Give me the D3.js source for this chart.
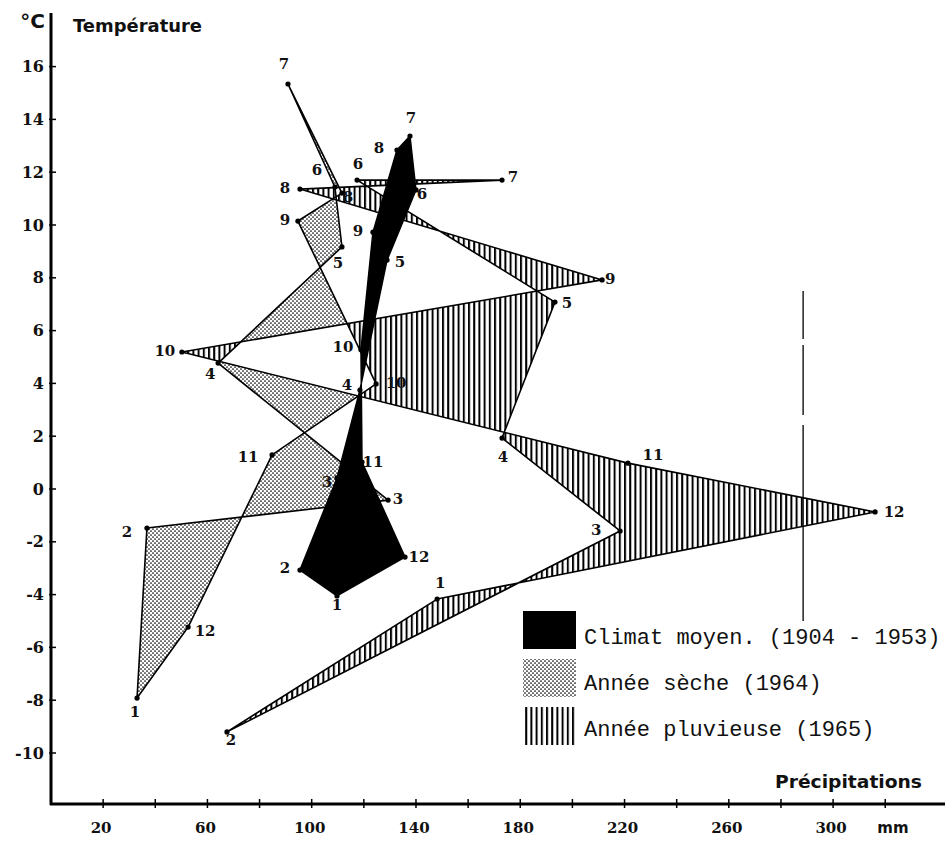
<!DOCTYPE html>
<html>
<head>
<meta charset="utf-8">
<script src="https://cdn.jsdelivr.net/npm/d3@7/dist/d3.min.js"></script>
<style>
  body { margin: 0; background: #fff; }
  .num { font-family: 'DejaVu Serif', serif; font-weight: bold; font-size: 15px; fill: #111; }
  .legend { font-family: 'Liberation Mono', 'DejaVu Sans Mono', monospace; font-size: 22px; fill: #111; }
  .title { font-family: 'DejaVu Sans', sans-serif; font-weight: bold; fill: #111; }
</style>
</head>
<body>
<script>

// monthly values, months 1..12
var months = [1,2,3,4,5,6,7,8,9,10,11,12];

// Climat moyen (1904 - 1953)
var meanPrecip = [109.7, 95.5, 109.7, 118.5, 128.9, 140.0, 137.7, 132.7, 123.5, 118.9, 119.3, 135.8];
var meanTemp   = [-4.05, -3.07, 0.42, 3.75, 8.67, 11.33, 13.37, 12.84, 9.73, 5.27, 1.02, -2.58];

// Annee seche (1964)
var dryPrecip = [33.0, 36.8, 129.3, 64.1, 111.6, 108.9, 90.9, 111.6, 94.7, 124.7, 84.8, 52.6];
var dryTemp   = [-7.92, -1.48, -0.42, 4.77, 9.17, 11.44, 15.34, 11.21, 10.15, 3.98, 1.29, -5.23];

// Annee pluvieuse (1965)
var wetPrecip = [148.1, 67.5, 218.3, 173.0, 193.3, 117.4, 173.0, 95.5, 211.4, 50.2, 221.3, 316.1];
var wetTemp   = [-4.17, -9.2, -1.59, 1.93, 7.08, 11.7, 11.7, 11.36, 7.92, 5.19, 0.98, -0.87];

var yTickValues = [-10,-8,-6,-4,-2,0,2,4,6,8,10,12,14,16];
var xTickValues = [20,40,60,80,100,120,140,160,180,200,220,240,260,280,300,320];
var xLabelValues = [20,60,100,140,180,220,260,300];

var legendLabels = ['Climat moyen. (1904 - 1953)', 'Année sèche (1964)', 'Année pluvieuse (1965)'];

// label offsets (px) from each point
var meanLabelOff = [[0,9],[-15,-2],[-10,4],[-13,-5],[13,2],[6,4],[1,-18],[-18,-2],[-15,-1],[-18,-3],[11,0],[14,0]];
var dryLabelOff  = [[-2,14],[-20,4],[10,-1],[-8,11],[-4,16],[-18,-17],[-4,-20],[6,4],[-13,-1],[20,-1],[-24,2],[17,4]];
var wetLabelOff  = [[3,-16],[4,8],[-24,-1],[1,19],[12,1],[1,-16],[11,-3],[-15,-1],[8,-1],[-17,-1],[25,-8],[19,0]];

var width = 949, height = 841;

var x = d3.scaleLinear().domain([0, 320]).range([51, 51 + 320 * 2.607]);
var y = d3.scaleLinear().domain([0, 16]).range([489, 489 - 16 * 26.4]);

var svg = d3.select('body').append('svg')
  .attr('width', width)
  .attr('height', height);

function pts(pr, te) {
  return months.map(function (m, i) { return {m: m, p: pr[i], t: te[i]}; });
}
var mean = pts(meanPrecip, meanTemp);
var dry = pts(dryPrecip, dryTemp);
var wet = pts(wetPrecip, wetTemp);

var line = d3.line()
  .x(function (d) { return x(d.p); })
  .y(function (d) { return y(d.t); });
function ring(data) { return line(data) + 'Z'; }

var defs = svg.append('defs');

var stripes = defs.append('pattern')
  .attr('id', 'stripes')
  .attr('patternUnits', 'userSpaceOnUse')
  .attr('width', 5.2).attr('height', 10);
stripes.append('rect').attr('x', 0).attr('y', 0).attr('width', 2).attr('height', 10).attr('fill', '#000');

var dots = defs.append('pattern')
  .attr('id', 'dots')
  .attr('patternUnits', 'userSpaceOnUse')
  .attr('width', 4).attr('height', 4);
dots.append('circle').attr('cx', 1).attr('cy', 1).attr('r', 0.85).attr('fill', '#000');
dots.append('circle').attr('cx', 3).attr('cy', 3).attr('r', 0.85).attr('fill', '#000');

// where dry and wet years overlap, the tone is left out
var notDry = defs.append('mask').attr('id', 'notDry');
notDry.append('rect').attr('width', width).attr('height', height).attr('fill', '#fff');
notDry.append('path').attr('d', ring(dry)).attr('fill', '#000');
var notWet = defs.append('mask').attr('id', 'notWet');
notWet.append('rect').attr('width', width).attr('height', height).attr('fill', '#fff');
notWet.append('path').attr('d', ring(wet)).attr('fill', '#000');

svg.append('path')
  .attr('d', ring(wet))
  .attr('fill', 'url(#stripes)')
  .attr('mask', 'url(#notDry)');
svg.append('path')
  .attr('d', ring(dry))
  .attr('fill', 'url(#dots)')
  .attr('mask', 'url(#notWet)');

[wet, dry].forEach(function (s) {
  svg.append('path')
    .attr('d', ring(s))
    .attr('fill', 'none')
    .attr('stroke', '#000')
    .attr('stroke-width', 1.6)
    .attr('stroke-linejoin', 'round');
});

svg.append('path')
  .attr('d', ring(mean))
  .attr('fill', '#000')
  .attr('stroke', '#000')
  .attr('stroke-width', 1.5)
  .attr('stroke-linejoin', 'round');

// month dots and labels
[[mean, meanLabelOff], [dry, dryLabelOff], [wet, wetLabelOff]].forEach(function (s) {
  var g = svg.append('g');
  g.selectAll('circle')
    .data(s[0])
    .enter().append('circle')
    .attr('cx', function (d) { return x(d.p); })
    .attr('cy', function (d) { return y(d.t); })
    .attr('r', 2.6)
    .attr('fill', '#000');
  g.selectAll('text')
    .data(s[0])
    .enter().append('text')
    .attr('class', 'num')
    .attr('x', function (d, i) { return x(d.p) + s[1][i][0]; })
    .attr('y', function (d, i) { return y(d.t) + s[1][i][1]; })
    .attr('text-anchor', 'middle')
    .attr('dominant-baseline', 'central')
    .text(function (d) { return d.m; });
});

// the vertical mark at the right
svg.append('line')
  .attr('x1', x(288.5)).attr('x2', x(288.5))
  .attr('y1', y(7.5)).attr('y2', y(-5))
  .attr('stroke', '#000')
  .attr('stroke-width', 1.3)
  .attr('stroke-dasharray', '48,6,70,10,200');

// axes
var x0 = x(0), yBase = 804;
svg.append('line')
  .attr('x1', x0).attr('x2', x0).attr('y1', 13).attr('y2', yBase + 1)
  .attr('stroke', '#000').attr('stroke-width', 3);
svg.append('line')
  .attr('x1', x0 - 1).attr('x2', 945).attr('y1', yBase).attr('y2', yBase)
  .attr('stroke', '#000').attr('stroke-width', 3);

svg.selectAll('.ytick')
  .data(yTickValues)
  .enter().append('line')
  .attr('x1', x0 - 2).attr('x2', x0 + 5)
  .attr('y1', function (d) { return y(d); })
  .attr('y2', function (d) { return y(d); })
  .attr('stroke', '#000').attr('stroke-width', 1.5);
svg.selectAll('.ylab')
  .data(yTickValues)
  .enter().append('text')
  .attr('class', 'num')
  .style('font-size', '16px')
  .attr('x', 44)
  .attr('y', function (d) { return y(d); })
  .attr('text-anchor', 'end')
  .attr('dominant-baseline', 'central')
  .text(function (d) { return d; });

svg.selectAll('.xtick')
  .data(xTickValues)
  .enter().append('line')
  .attr('x1', function (d) { return x(d); })
  .attr('x2', function (d) { return x(d); })
  .attr('y1', yBase - 5).attr('y2', yBase + 4)
  .attr('stroke', '#000').attr('stroke-width', 1.5);
svg.selectAll('.xlab')
  .data(xLabelValues)
  .enter().append('text')
  .attr('class', 'num')
  .attr('x', function (d) { return x(d) - 2; })
  .attr('y', 833)
  .attr('text-anchor', 'middle')
  .text(function (d) { return d; });
svg.append('text').attr('class', 'title')
  .attr('x', 893).attr('y', 833).attr('text-anchor', 'middle')
  .style('font-size', '15px')
  .text('mm');

svg.append('text').attr('class', 'title')
  .attr('x', 45).attr('y', 28).attr('text-anchor', 'end')
  .style('font-size', '20px')
  .text('°C');
svg.append('text').attr('class', 'title')
  .attr('x', 73).attr('y', 32)
  .attr('textLength', 129).attr('lengthAdjust', 'spacingAndGlyphs')
  .style('font-size', '17px')
  .text('Température');
svg.append('text').attr('class', 'title')
  .attr('x', 775).attr('y', 788)
  .attr('textLength', 147).attr('lengthAdjust', 'spacingAndGlyphs')
  .style('font-size', '17px')
  .text('Précipitations');

// legend
var fills = ['#000', 'url(#dots)', 'url(#stripes)'];
var legend = svg.append('g');
legend.selectAll('rect')
  .data(legendLabels)
  .enter().append('rect')
  .attr('x', 523)
  .attr('y', function (d, i) { return 611 + i * 48; })
  .attr('width', 53)
  .attr('height', 38)
  .attr('fill', function (d, i) { return fills[i]; });
legend.selectAll('text')
  .data(legendLabels)
  .enter().append('text')
  .attr('class', 'legend')
  .attr('x', 584)
  .attr('y', function (d, i) { return 644 + i * 46; })
  .text(function (d) { return d; });

</script>
</body>
</html>
